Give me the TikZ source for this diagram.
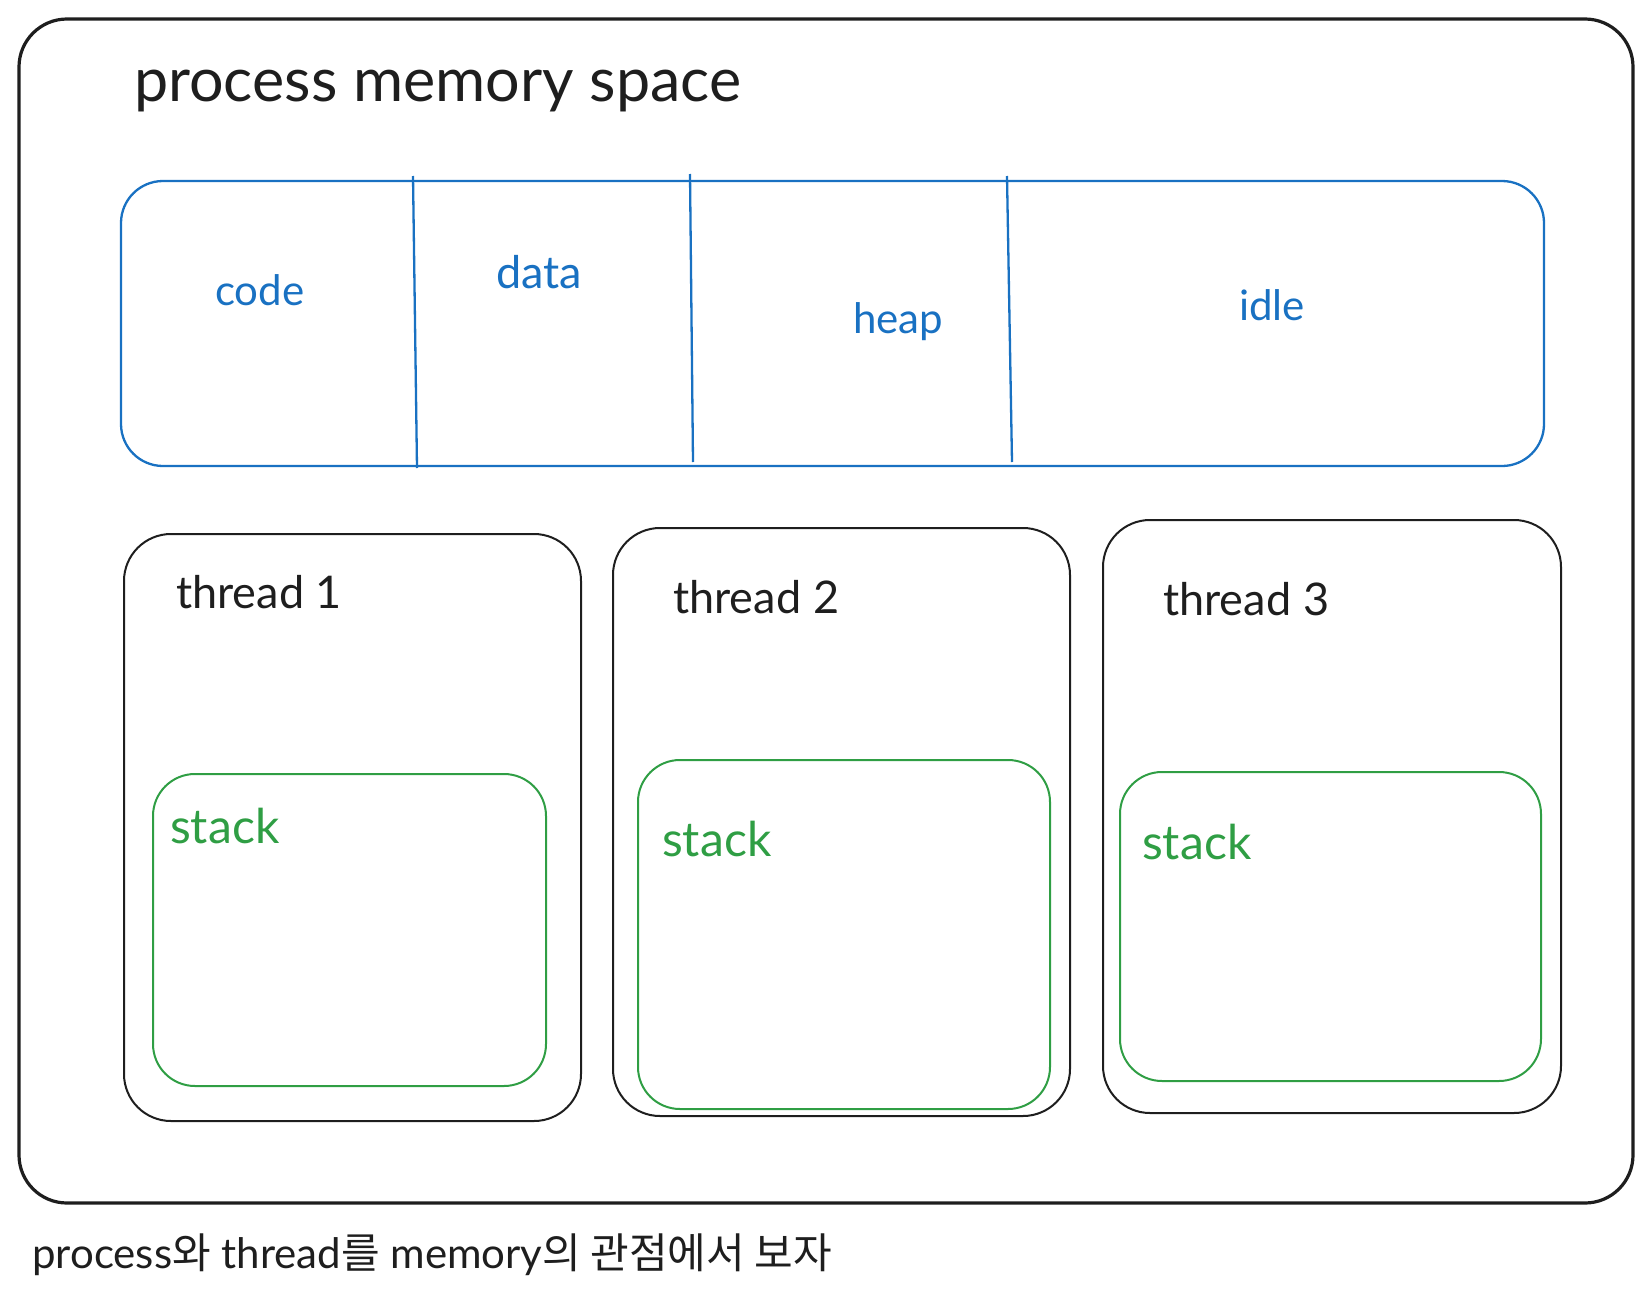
\documentclass[tikz,border=0pt]{standalone}
\usepackage{fontspec}
\setmainfont{Lato}
\newfontfamily\cjk{Noto Sans CJK KR}
\definecolor{inkc}{HTML}{1E1E1E}
\definecolor{bluec}{HTML}{1971C2}
\definecolor{greenc}{HTML}{2F9E44}
\begin{document}
\begin{tikzpicture}[x=1pt,y=-1pt,
  box/.style={draw, rounded corners=#1, inner sep=0pt},
  lbl/.style={anchor=base west, inner sep=0pt, font=\fontsize{45}{50}\selectfont},
  seglbl/.style={lbl, text=bluec, font=\fontsize{42}{48}\selectfont},
]
\useasboundingbox (0,0) rectangle (1652,1306);
% outer frame
\node[box=48pt, draw=inkc, line width=3.2pt, minimum width=1614pt, minimum height=1184pt] (outer) at (826,611) {};
\node[lbl, text=inkc, font=\fontsize{61}{68}\selectfont] (title) at (134,102) {process memory space};
% memory segments
\node[box=42pt, draw=bluec, line width=2.3pt, minimum width=1423pt, minimum height=285pt] (mem) at (832.5,323.5) {};
\coordinate (d1t) at (413,176); \coordinate (d1b) at (417,468);
\coordinate (d2t) at (690,174); \coordinate (d2b) at (693,462);
\coordinate (d3t) at (1007,176); \coordinate (d3b) at (1012,462);
\draw[bluec, line width=2.3pt] (d1t) -- (d1b) (d2t) -- (d2b) (d3t) -- (d3b);
\node[seglbl] (code) at (215,305) {code};
\node[seglbl, font=\fontsize{45}{50}\selectfont] (data) at (496,288) {data};
\node[seglbl] (heap) at (853,333) {heap};
\node[seglbl] (idle) at (1239,320) {idle};
% threads
\node[box=47pt, draw=inkc, line width=2pt, minimum width=457pt, minimum height=587pt] (t1) at (352.5,827.5) {};
\node[box=47pt, draw=inkc, line width=2pt, minimum width=457pt, minimum height=588pt] (t2) at (841.5,822) {};
\node[box=47pt, draw=inkc, line width=2pt, minimum width=458pt, minimum height=593pt] (t3) at (1332,816.5) {};
\node[lbl, text=inkc] (t1l) at (176,608) {thread 1};
\node[lbl, text=inkc] (t2l) at (673,613) {thread\hspace{12pt}2};
\node[lbl, text=inkc] (t3l) at (1163,615) {thread\hspace{12pt}3};
% stacks
\node[box=42pt, draw=greenc, line width=2pt, minimum width=393pt, minimum height=312pt] (s1) at (349.5,930) {};
\node[box=42pt, draw=greenc, line width=2pt, minimum width=412pt, minimum height=349pt] (s2) at (844,934.5) {};
\node[box=42pt, draw=greenc, line width=2pt, minimum width=421pt, minimum height=309pt] (s3) at (1330.5,926.5) {};
\node[lbl, text=greenc, font=\fontsize{48}{52}\selectfont] (s1l) at (170,843) {stack};
\node[lbl, text=greenc, font=\fontsize{48}{52}\selectfont] (s2l) at (662,856) {stack};
\node[lbl, text=greenc, font=\fontsize{48}{52}\selectfont] (s3l) at (1142,859) {stack};
% caption
\node[lbl, text=inkc, font=\fontsize{42}{46}\selectfont] (cap) at (32,1268) {process{\cjk 와} thread{\cjk 를} memory{\cjk 의 관점에서 보자}};
\end{tikzpicture}
\end{document}
